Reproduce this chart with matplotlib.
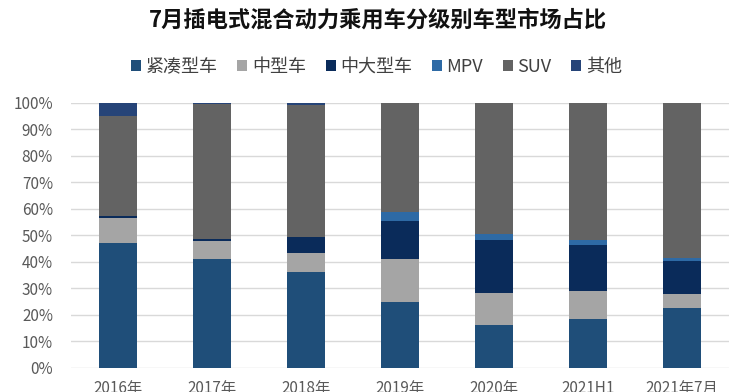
import matplotlib.pyplot as plt
import numpy as np
from matplotlib.ticker import PercentFormatter

plt.rcParams['font.family'] = ['Noto Sans CJK SC', 'DejaVu Sans']

# 数据（百分比）
years = ["2016年", "2017年", "2018年", "2019年", "2020年", "2021H1", "2021年7月"]
compact = [46.9, 40.9, 36.2, 24.8, 15.9, 18.4, 22.5]     # 紧凑型车
mid = [9.6, 7.0, 6.9, 16.1, 12.3, 10.4, 5.1]              # 中型车
mid_large = [0.7, 0.6, 6.3, 14.5, 19.9, 17.3, 12.7]       # 中大型车
mpv = [0.0, 0.0, 0.0, 3.4, 2.3, 2.0, 1.1]                 # MPV
suv = [37.7, 50.9, 49.7, 41.2, 49.6, 51.9, 58.6]          # SUV
other = [5.1, 0.6, 0.9, 0.0, 0.0, 0.0, 0.0]               # 其他

names = ["紧凑型车", "中型车", "中大型车", "MPV", "SUV", "其他"]
series = [compact, mid, mid_large, mpv, suv, other]
colors = ["#1F4E79", "#A5A5A5", "#0A2B5A", "#2E6AA5", "#636363", "#264478"]

fig = plt.figure(figsize=(7.44, 3.92), dpi=100)
ax = fig.add_axes([71 / 744, 24.5 / 392, 658 / 744, 264.8 / 392])

x = np.arange(len(years))
bottom = np.zeros(len(years))
for name, vals, c in zip(names, series, colors):
    vals = np.array(vals) / 100
    ax.bar(x, vals, 0.4, bottom=bottom, color=c, label=name, zorder=3)
    bottom += vals

ax.set_xlim(-0.5, len(years) - 0.5)
ax.set_ylim(0, 1)
ax.set_yticks(np.arange(0, 1.01, 0.1))
ax.yaxis.set_major_formatter(PercentFormatter(1.0, decimals=0))
ax.set_xticks(x)
ax.set_xticklabels(years)
ax.tick_params(axis="y", length=0, pad=13, labelsize=11, labelcolor="#595959")
ax.tick_params(axis="x", length=0, pad=9, labelsize=11, labelcolor="#595959")
ax.grid(axis="y", color="#D9D9D9", linewidth=1, zorder=0)
for s in ax.spines.values():
    s.set_visible(False)

fig.suptitle("7月插电式混合动力乘用车分级别车型市场占比", x=0.508, y=0.978,
             fontsize=16, fontweight="bold", color="#111111")
fig.legend(loc="center", bbox_to_anchor=(0.506, 1 - 67 / 392), ncol=6,
           frameon=False, fontsize=13, labelcolor="#404040",
           handlelength=0.55, handleheight=0.55, handletextpad=0.25,
           columnspacing=1.1)

fig.savefig("out.png", dpi=100)
